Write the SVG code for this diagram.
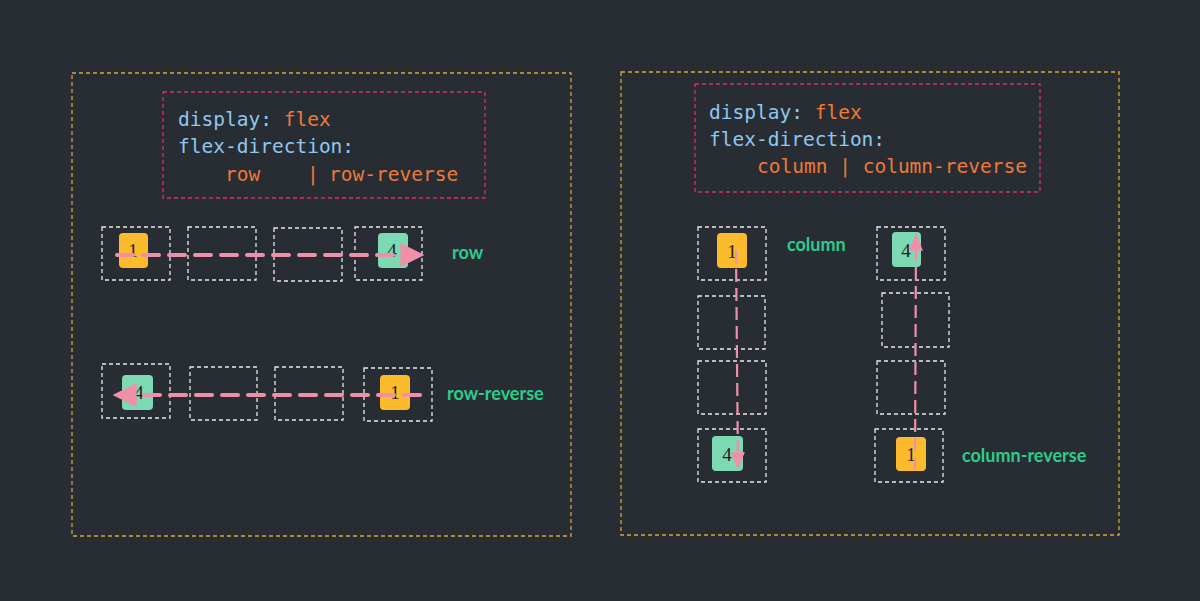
<svg xmlns="http://www.w3.org/2000/svg" width="1200" height="601" viewBox="0 0 1200 601">
<defs>
<style>
.outer{fill:none;stroke:#d9a73a;stroke-width:1.3;stroke-dasharray:4 3}
.code{fill:none;stroke:#d6335c;stroke-width:1.3;stroke-dasharray:4 3}
.cell{fill:none;stroke:#e8e8e8;stroke-width:1.3;stroke-dasharray:4 3}
.y{fill:#fbbb2c}
.g{fill:#7dd8b4}
.num{font-family:"Liberation Serif",serif;font-size:19px;fill:#1e1e1e;text-anchor:middle}
.mono{font-family:"DejaVu Sans Mono","Liberation Mono",monospace;font-size:19.5px}
.k{fill:#8fc8ef}
.v{fill:#ee7a3a}
.lbl{font-family:"Lato",sans-serif;font-size:18px;fill:#2ecc8a;font-weight:bold}
.arr{stroke:#f08fa8;stroke-width:4;stroke-dasharray:16 10;fill:none;stroke-linecap:round}
.arrv{stroke:#f08fa8;stroke-width:2.2;stroke-dasharray:13 6;fill:none}
</style>
<marker id="ah" viewBox="0 0 10 10" refX="9" refY="5" markerWidth="6" markerHeight="6" orient="auto"><path d="M0,0 L10,5 L0,10 z" fill="#f08fa8"/></marker>
<marker id="ahs" viewBox="0 0 10 10" refX="9" refY="5" markerWidth="8" markerHeight="8" orient="auto"><path d="M0,1 L10,5 L0,9 z" fill="#f08fa8"/></marker>
</defs>
<rect width="1200" height="601" fill="#282d33"/>
<rect class="outer" x="72" y="73" width="499" height="463"/>
<rect class="outer" x="621" y="72" width="498" height="463"/>
<g id="code-left">
<rect class="code" x="163" y="92" width="322" height="106"/>
<text class="mono" x="178" y="126"><tspan class="k">display: </tspan><tspan class="v">flex</tspan></text>
<text class="mono k" x="178" y="153">flex-direction:</text>
<text class="mono v" x="225" y="181">row</text>
<text class="mono v" x="307" y="181">|</text>
<text class="mono v" x="329" y="181">row-reverse</text>
</g>
<g id="code-right">
<rect class="code" x="695" y="84" width="345" height="108"/>
<text class="mono" x="709" y="119"><tspan class="k">display: </tspan><tspan class="v">flex</tspan></text>
<text class="mono k" x="709" y="146">flex-direction:</text>
<text class="mono v" x="757" y="173">column | column-reverse</text>
</g>
<g id="row">
<rect class="cell" x="102" y="227" width="68" height="53"/>
<rect class="cell" x="188" y="227" width="68" height="53"/>
<rect class="cell" x="274" y="228" width="68" height="53"/>
<rect class="cell" x="355" y="227" width="67" height="53"/>
<rect class="y" x="119" y="233" width="29" height="35" rx="4"/><text class="num" x="133" y="257">1</text>
<rect class="g" x="378" y="233" width="30" height="35" rx="4"/><text class="num" x="392" y="257">4</text>
</g>
<g id="row-reverse">
<rect class="cell" x="102" y="364" width="68" height="54"/>
<rect class="cell" x="190" y="367" width="67" height="53"/>
<rect class="cell" x="275" y="367" width="68" height="53"/>
<rect class="cell" x="364" y="368" width="68" height="53"/>
<rect class="g" x="122" y="375" width="31" height="35" rx="4"/><text class="num" x="139" y="399">4</text>
<rect class="y" x="380" y="375" width="30" height="35" rx="4"/><text class="num" x="395" y="399">1</text>
</g>
<g id="column">
<rect class="cell" x="698" y="227" width="68" height="53"/>
<rect class="cell" x="698" y="296" width="67" height="53"/>
<rect class="cell" x="698" y="361" width="68" height="53"/>
<rect class="cell" x="698" y="429" width="68" height="53"/>
<rect class="y" x="717" y="233" width="30" height="35" rx="4"/><text class="num" x="732" y="258">1</text>
<rect class="g" x="712" y="436" width="31" height="35" rx="4"/><text class="num" x="727" y="461">4</text>
</g>
<g id="column-reverse">
<rect class="cell" x="877" y="227" width="68" height="53"/>
<rect class="cell" x="882" y="293" width="67" height="54"/>
<rect class="cell" x="877" y="361" width="68" height="53"/>
<rect class="cell" x="875" y="429" width="68" height="53"/>
<rect class="g" x="892" y="232" width="29" height="35" rx="4"/><text class="num" x="906" y="257">4</text>
<rect class="y" x="896" y="437" width="30" height="34" rx="4"/><text class="num" x="911" y="461">1</text>
</g>
<g id="connectors">
<line class="arr" x1="117" y1="255" x2="422" y2="255" marker-end="url(#ah)"/>
<line class="arr" x1="420" y1="395" x2="115" y2="395" marker-end="url(#ah)"/>
<line class="arrv" x1="736" y1="250" x2="738" y2="468" marker-end="url(#ahs)"/>
<line class="arrv" x1="915" y1="470" x2="916" y2="235" marker-end="url(#ahs)"/>
</g>
<g id="labels">
<text class="lbl" x="452" y="259">row</text>
<text class="lbl" x="447" y="400">row-reverse</text>
<text class="lbl" x="787" y="251">column</text>
<text class="lbl" x="962" y="462">column-reverse</text>
</g>
</svg>
